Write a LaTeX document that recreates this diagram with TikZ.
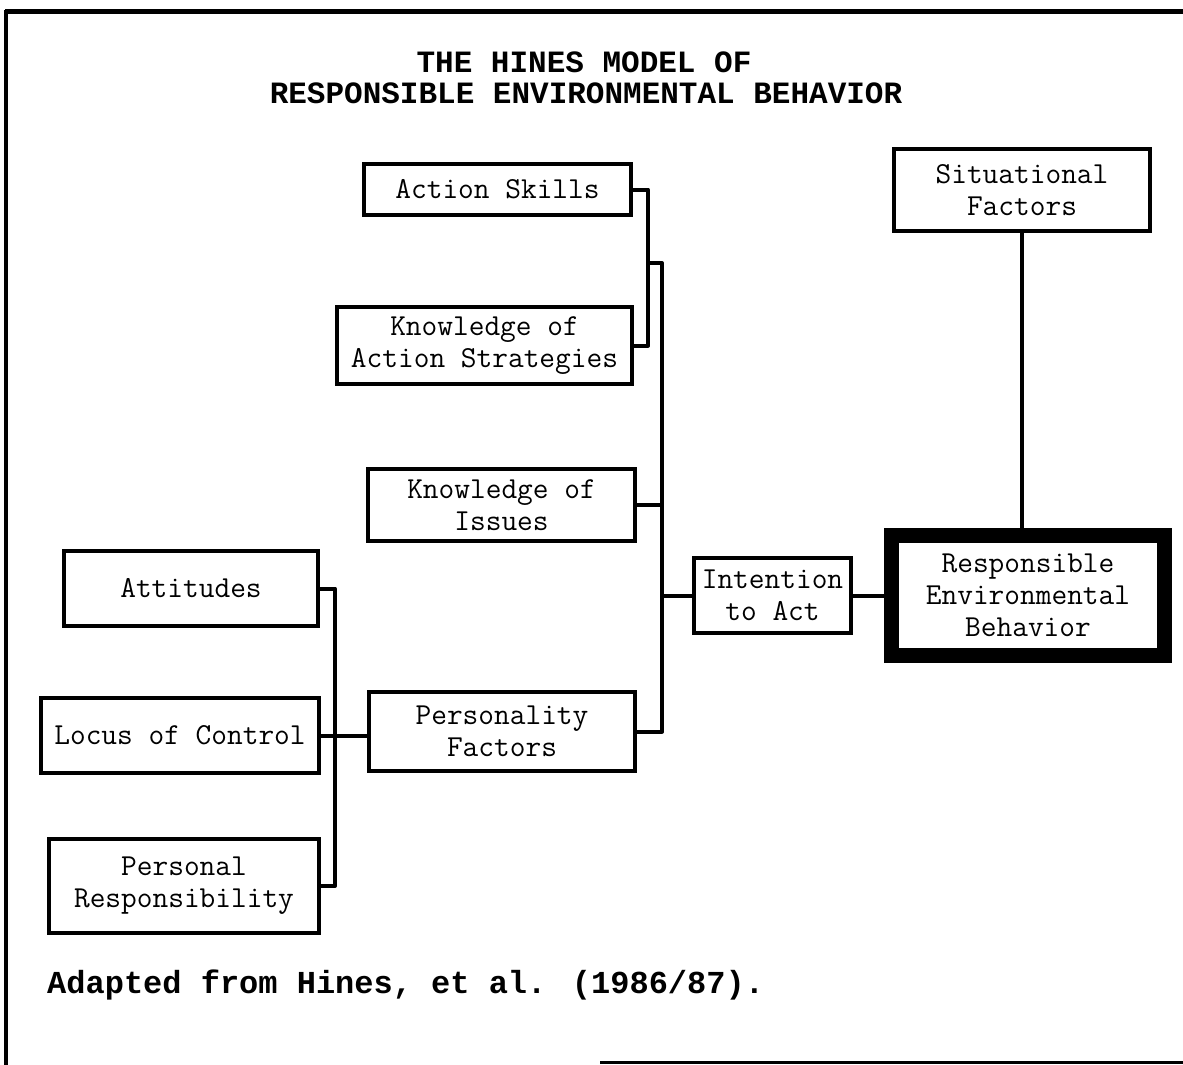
\documentclass[tikz,border=0pt]{standalone}
\usepackage{fontspec}
\newfontfamily\boldmono{Liberation Mono}
\begin{document}
\begin{tikzpicture}[x=1pt,y=-1pt,
  box/.style={draw,line width=4pt,inner sep=0pt,align=center,
    font=\ttfamily\fontsize{30.5}{32}\selectfont},
  conn/.style={line width=4pt,line join=round},
  titletxt/.style={font=\boldmono\bfseries\fontsize{31}{31}\selectfont,inner sep=0pt}]
\useasboundingbox (0,0) rectangle (1183,1065);
% frame
\draw[line width=5pt] (5,12) -- (1183,12);
\draw[line width=4pt] (6,10) -- (6,1065);
\draw[line width=3pt] (600,1062) -- (1183,1062);
% title
\node[titletxt] (t1) at (584,62) {THE HINES MODEL OF};
\node[titletxt] (t2) at (586,93) {RESPONSIBLE ENVIRONMENTAL BEHAVIOR};
% boxes
\node[box,minimum width=267pt,minimum height=51pt] (skills) at (497.5,189.5) {Action Skills};
\node[box,minimum width=295pt,minimum height=77pt] (strat) at (484.5,345.5) {Knowledge of\\Action Strategies};
\node[box,minimum width=267pt,minimum height=72pt] (issues) at (501.5,505) {Knowledge of\\Issues};
\node[box,minimum width=254pt,minimum height=75pt] (att) at (191,588.5) {Attitudes};
\node[box,minimum width=278pt,minimum height=75pt] (locus) at (180,735.5) {Locus of Control};
\node[box,minimum width=270pt,minimum height=94pt] (presp) at (184,886) {Personal\\Responsibility};
\node[box,minimum width=266pt,minimum height=79pt] (pers) at (502,731.5) {Personality\\Factors};
\node[box,minimum width=157pt,minimum height=75pt] (intent) at (772.5,595.5) {Intention\\to Act};
\node[box,minimum width=256pt,minimum height=82pt] (sit) at (1022,190) {Situational\\Factors};
\node[box,line width=15pt,minimum width=273pt,minimum height=120pt] (reb) at (1028,595.5) {Responsible\\Environmental\\Behavior};
% junctions
\coordinate (b1) at (648,263);
\coordinate (b2) at (662,263);
\coordinate (c1) at (335,735.5);
% connectors
\draw[conn] (skills.east) -| (b1) |- (strat.east);
\draw[conn] (b1) -- (b2) |- (pers.east);
\draw[conn] (issues.east) -- (issues.east -| b2);
\draw[conn] (intent.west) -- (intent.west -| b2);
\draw[conn] (att.east) -| (c1) |- (presp.east);
\draw[conn] (locus.east) -- (locus.east -| pers.west);
\draw[conn] (intent.east) -- (reb.west);
\draw[conn] (sit.south) -- (sit.south |- reb.north);
% footer
\node[titletxt,font=\boldmono\bfseries\fontsize{32}{32}\selectfont,anchor=west] (foot) at (47,985) {Adapted from Hines, et al. (1986/87).};
\end{tikzpicture}
\end{document}
